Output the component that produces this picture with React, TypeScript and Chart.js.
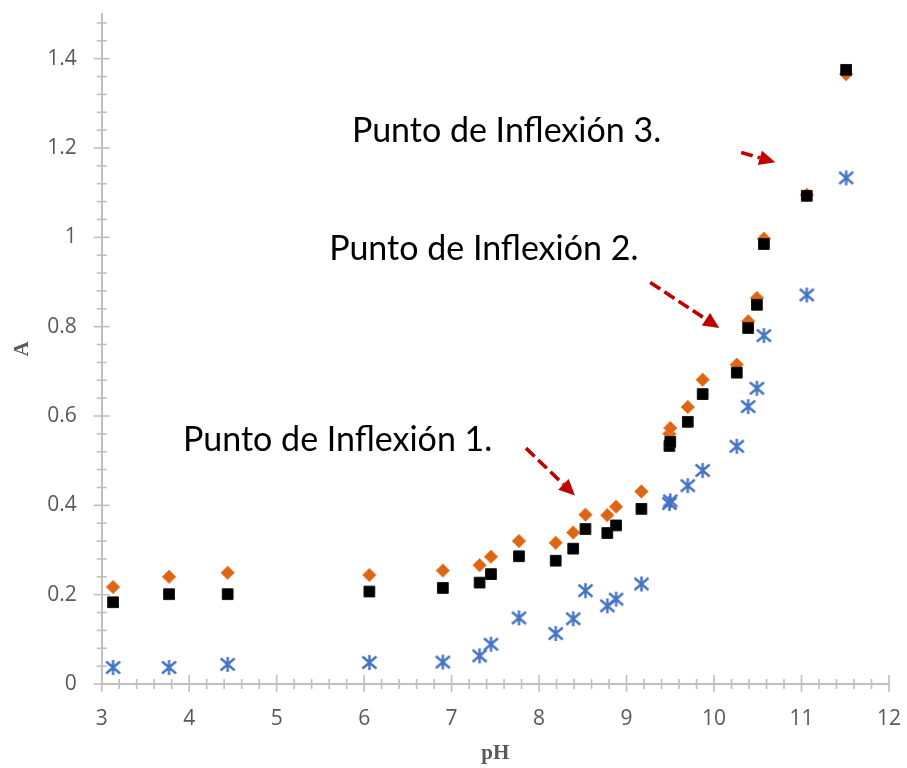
import React, { useEffect, useRef } from "react";
import { Chart, registerables } from "chart.js";

Chart.register(...registerables);

// pH readings shared by the three absorbance series
const pH = [
  3.13, 3.77, 4.44, 6.06, 6.9, 7.32, 7.45, 7.77, 8.19, 8.39, 8.53, 8.78,
  8.88, 9.17, 9.49, 9.5, 9.7, 9.87, 10.26, 10.39, 10.49, 10.57, 11.06, 11.51,
];

// absorbance, black squares
const absCuadrado = [
  0.183, 0.201, 0.201, 0.207, 0.215, 0.227, 0.246, 0.286, 0.276, 0.303, 0.347,
  0.338, 0.355, 0.392, 0.533, 0.542, 0.587, 0.649, 0.697, 0.797, 0.849, 0.985,
  1.093, 1.375,
];

// absorbance, orange diamonds
const absRombo = [
  0.217, 0.24, 0.249, 0.244, 0.254, 0.266, 0.285, 0.32, 0.316, 0.339, 0.379,
  0.378, 0.397, 0.431, 0.56, 0.573, 0.62, 0.681, 0.715, 0.812, 0.864, 0.997,
  1.095, 1.365,
];

// absorbance, blue asterisks
const absAsterisco = [
  0.037, 0.037, 0.044, 0.048, 0.049, 0.063, 0.089, 0.148, 0.113, 0.146, 0.209,
  0.175, 0.19, 0.224, 0.404, 0.41, 0.444, 0.478, 0.532, 0.621, 0.662, 0.78,
  0.871, 1.133,
];

// annotation texts, anchored in data units (left edge, baseline)
const notas = ["Punto de Inflexión 1.", "Punto de Inflexión 2.", "Punto de Inflexión 3."];
const notaX = [3.93, 5.6, 5.86];
const notaY = [0.522, 0.949, 1.213];

// dashed arrows in data units: [fromX, fromY, toX, toY]
const flechas = [
  [7.85, 0.528, 8.41, 0.422],
  [9.27, 0.899, 10.06, 0.797],
  [10.31, 1.19, 10.7, 1.168],
];

const AXIS_COLOR = "#bfbfbf";
const LABEL_COLOR = "#595959";
const ARROW_COLOR = "#c00000";

const isMultiple = (v: number, step: number) =>
  Math.abs(v / step - Math.round(v / step)) < 1e-6;

function asteriskMarker(color: string): HTMLCanvasElement {
  const c = document.createElement("canvas");
  c.width = 17;
  c.height = 17;
  const g = c.getContext("2d")!;
  g.strokeStyle = color;
  g.lineWidth = 2.4;
  const m = 8.5;
  g.beginPath();
  g.moveTo(m, m - 7.5);
  g.lineTo(m, m + 7.5);
  g.moveTo(m - 7, m - 6);
  g.lineTo(m + 7, m + 6);
  g.moveTo(m - 7, m + 6);
  g.lineTo(m + 7, m - 6);
  g.stroke();
  return c;
}

const toPoints = (ys: number[]) => ys.map((y, i) => ({ x: pH[i], y }));

// cross-style tick marks on both axes
const axisTicks = {
  id: "axisTicks",
  beforeDatasetsDraw(chart: any) {
    const { ctx, scales } = chart;
    const xs = scales.x;
    const ys = scales.y;
    const y0 = ys.getPixelForValue(0);
    const x0 = xs.getPixelForValue(3);
    ctx.save();
    ctx.strokeStyle = AXIS_COLOR;
    ctx.lineWidth = 1.6;
    xs.ticks.forEach((t: any) => {
      const px = xs.getPixelForValue(t.value);
      const major = isMultiple(t.value, 1);
      ctx.beginPath();
      ctx.moveTo(px, y0 - (major ? 9 : 5));
      ctx.lineTo(px, y0 + (major ? 8 : 5));
      ctx.stroke();
    });
    ys.ticks.forEach((t: any) => {
      const py = ys.getPixelForValue(t.value);
      const major = isMultiple(t.value, 0.2);
      ctx.beginPath();
      ctx.moveTo(x0 - (major ? 8 : 5), py);
      ctx.lineTo(x0 + (major ? 8 : 5), py);
      ctx.stroke();
    });
    ctx.restore();
  },
};

// inflection-point captions and their dashed red arrows
const inflexiones = {
  id: "inflexiones",
  afterDatasetsDraw(chart: any) {
    const { ctx, scales } = chart;
    const xs = scales.x;
    const ys = scales.y;
    ctx.save();
    ctx.fillStyle = "#000000";
    ctx.font = '34px Lato, "Open Sans", sans-serif';
    ctx.textAlign = "left";
    ctx.textBaseline = "alphabetic";
    notas.forEach((t, i) => {
      ctx.fillText(t, xs.getPixelForValue(notaX[i]), ys.getPixelForValue(notaY[i]));
    });

    flechas.forEach(([fx, fy, tx, ty]) => {
      const ax = xs.getPixelForValue(fx);
      const ay = ys.getPixelForValue(fy);
      const bx = xs.getPixelForValue(tx);
      const by = ys.getPixelForValue(ty);
      const ang = Math.atan2(by - ay, bx - ax);
      const head = 16;
      const half = 7.5;
      const hx = bx - head * Math.cos(ang);
      const hy = by - head * Math.sin(ang);
      ctx.strokeStyle = ARROW_COLOR;
      ctx.fillStyle = ARROW_COLOR;
      ctx.lineWidth = 3.6;
      ctx.setLineDash([12, 5]);
      ctx.beginPath();
      ctx.moveTo(ax, ay);
      ctx.lineTo(hx, hy);
      ctx.stroke();
      ctx.setLineDash([]);
      ctx.beginPath();
      ctx.moveTo(bx, by);
      ctx.lineTo(hx + half * Math.sin(ang), hy - half * Math.cos(ang));
      ctx.lineTo(hx - half * Math.sin(ang), hy + half * Math.cos(ang));
      ctx.closePath();
      ctx.fill();
    });
    ctx.restore();
  },
};

export default function App() {
  const canvasRef = useRef<HTMLCanvasElement>(null);

  useEffect(() => {
    const canvas = canvasRef.current;
    if (!canvas) return;
    const chart = new Chart(canvas, {
      type: "scatter",
      data: {
        datasets: [
          {
            label: "A (cuadrado)",
            data: toPoints(absCuadrado),
            pointStyle: "rect",
            pointRadius: 7.6,
            backgroundColor: "#000000",
            borderColor: "#111111",
            borderWidth: 1,
          },
          {
            label: "A (rombo)",
            data: toPoints(absRombo),
            pointStyle: "rectRot",
            pointRadius: 6.8,
            backgroundColor: "#dc6516",
            borderColor: "#f0904a",
            borderWidth: 1,
          },
          {
            label: "A (asterisco)",
            data: toPoints(absAsterisco),
            pointStyle: asteriskMarker("#4472c4"),
            pointRadius: 8,
          },
        ],
      },
      options: {
        animation: false,
        responsive: false,
        maintainAspectRatio: false,
        events: [],
        layout: { padding: { left: 0, top: 14, right: 18, bottom: 0 } },
        plugins: {
          legend: { display: false },
          tooltip: { enabled: false },
        },
        scales: {
          x: {
            type: "linear",
            min: 3,
            max: 12,
            afterBuildTicks: (scale: any) => {
              scale.ticks = Array.from({ length: 46 }, (_, i) => ({
                value: Math.round((3 + i * 0.2) * 10) / 10,
              }));
            },
            afterFit: (scale: any) => {
              scale.height = 84;
            },
            grid: {
              display: true,
              drawOnChartArea: false,
              drawTicks: true,
              tickLength: 22,
              tickColor: "rgba(0,0,0,0)",
              color: "rgba(0,0,0,0)",
            },
            border: { display: true, color: AXIS_COLOR, width: 2 },
            ticks: {
              autoSkip: false,
              maxRotation: 0,
              padding: 0,
              color: LABEL_COLOR,
              font: { family: '"Open Sans", sans-serif', size: 21 },
              callback: (v: any) => (isMultiple(Number(v), 1) ? String(Math.round(Number(v))) : ""),
            },
            title: {
              display: true,
              text: "pH",
              color: LABEL_COLOR,
              font: { family: '"Liberation Serif", serif', size: 21, weight: "bold" },
              padding: { top: 0, bottom: 2 },
            },
          },
          y: {
            type: "linear",
            min: 0,
            max: 1.5,
            afterBuildTicks: (scale: any) => {
              scale.ticks = Array.from({ length: 38 }, (_, i) => ({
                value: Math.round(i * 0.04 * 100) / 100,
              }));
            },
            afterFit: (scale: any) => {
              scale.width = 101.7;
            },
            grid: {
              display: true,
              drawOnChartArea: false,
              drawTicks: true,
              tickLength: 25,
              tickColor: "rgba(0,0,0,0)",
              color: "rgba(0,0,0,0)",
            },
            border: { display: true, color: AXIS_COLOR, width: 2 },
            ticks: {
              autoSkip: false,
              padding: 0,
              color: LABEL_COLOR,
              font: { family: '"Open Sans", sans-serif', size: 21 },
              callback: (v: any) =>
                isMultiple(Number(v), 0.2) ? String(Math.round(Number(v) * 10) / 10) : "",
            },
            title: {
              display: true,
              text: "A",
              color: LABEL_COLOR,
              font: { family: '"Liberation Serif", serif', size: 21, weight: "bold" },
              padding: { top: 10, bottom: 0 },
            },
          },
        },
      },
      plugins: [axisTicks, inflexiones],
    });
    return () => chart.destroy();
  }, []);

  return (
    <div
      style={{
        position: "fixed",
        left: 0,
        top: 0,
        width: 907,
        height: 768,
        background: "#ffffff",
      }}
    >
      <canvas ref={canvasRef} width={907} height={768} style={{ width: 907, height: 768 }} />
    </div>
  );
}
